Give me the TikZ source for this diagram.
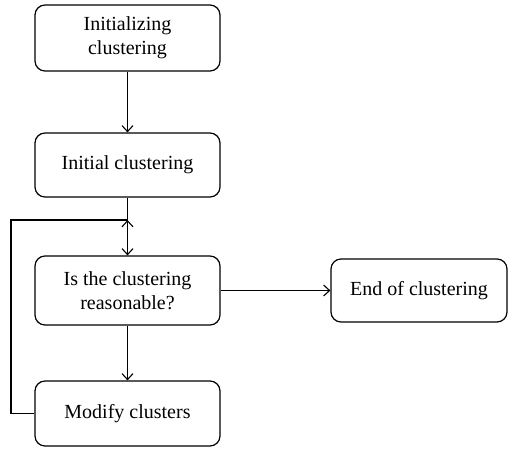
\documentclass[tikz,border=0pt]{standalone}
\usepackage{fontspec}
\setmainfont{Liberation Serif}
\usetikzlibrary{arrows.meta}
\begin{document}
\begin{tikzpicture}[x=1pt,y=-1pt,
  box/.style={draw, line width=1.2pt, rounded corners=10pt, align=center,
    inner sep=0pt, font=\fontsize{20}{24}\selectfont},
  conn/.style={line width=1.1pt, -{Straight Barb[length=6pt,width=11pt,line width=1.1pt]}},
  plain/.style={line width=1.1pt}]
\useasboundingbox (0,0) rectangle (510,450);
\node[box, minimum width=185pt, minimum height=66pt] (a) at (127.5,38) {Initializing\\clustering};
\node[box, minimum width=185pt, minimum height=64pt] (b) at (127.5,165) {Initial clustering};
\node[box, minimum width=185pt, minimum height=69pt] (c) at (127.5,290.5) {Is the clustering\\reasonable?};
\node[box, minimum width=185pt, minimum height=65pt] (d) at (127.5,413.5) {Modify clusters};
\node[box, minimum width=176pt, minimum height=63pt] (e) at (419,290.5) {End of clustering};
\coordinate (j) at (127.5,220);
\coordinate (k) at (11,220);
\draw[conn] (a) -- (b);
\draw[conn] (b) -- (c);
\draw[conn] (c.north) -- (j);
\draw[conn] (c) -- (d);
\draw[conn] (c) -- (e);
\draw[plain] (d.west) -| (k) -- (j);
\end{tikzpicture}
\end{document}
